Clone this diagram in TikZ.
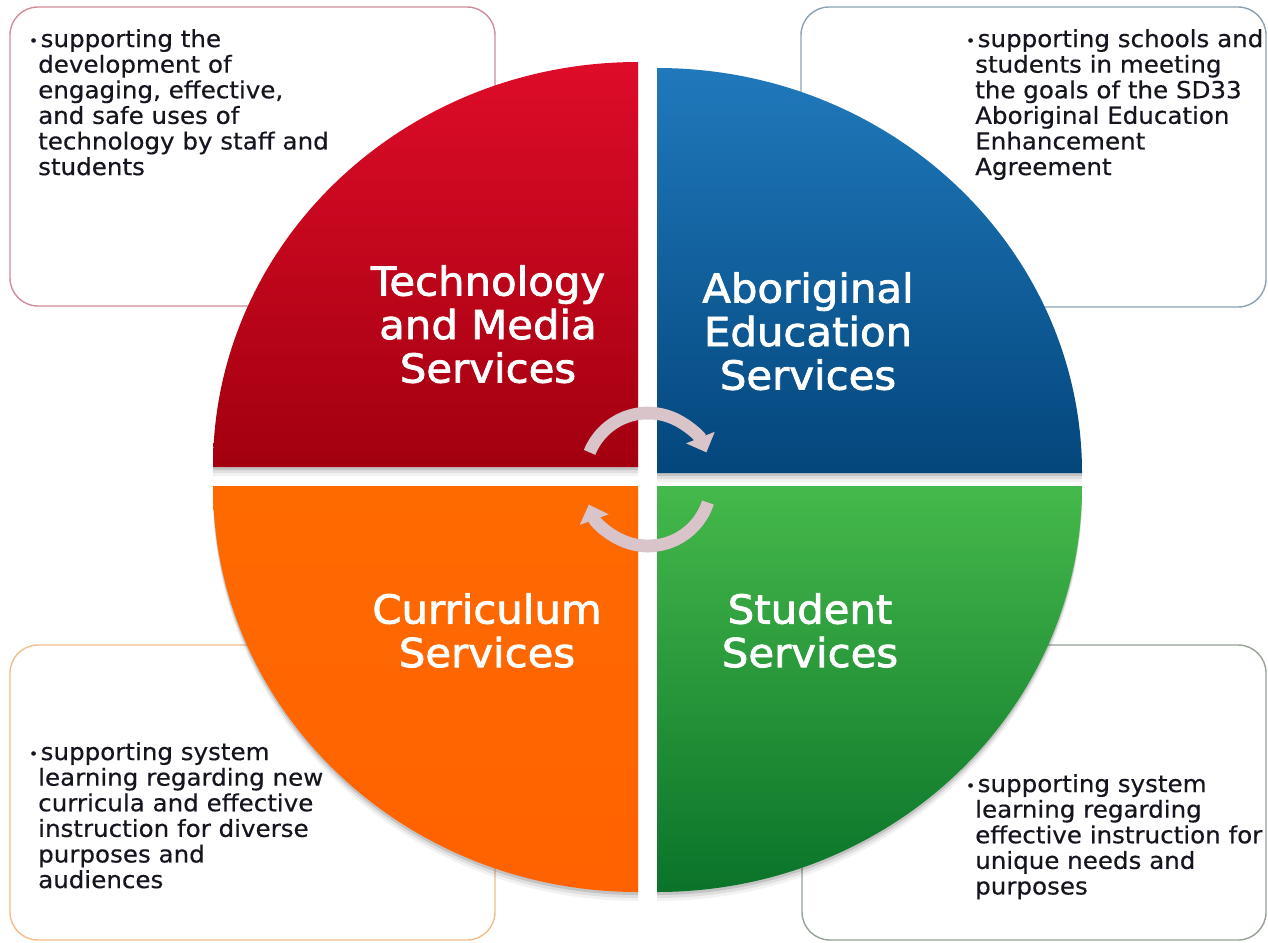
\documentclass[tikz,border=0pt]{standalone}
\usepackage{fontspec}
\newfontfamily\bodyfont[FakeStretch=1.045,FakeBold=0.4]{DejaVu Sans}
\newfontfamily\bigfont[FakeStretch=1.045,FakeBold=2]{DejaVu Sans}
\usetikzlibrary{arrows.meta}
\definecolor{redT}{HTML}{DE0C28}
\definecolor{redB}{HTML}{A2000F}
\definecolor{bluT}{HTML}{2079BC}
\definecolor{bluB}{HTML}{03467C}
\definecolor{orgT}{HTML}{FF6A00}
\definecolor{orgB}{HTML}{FF6200}
\definecolor{grnT}{HTML}{45B94B}
\definecolor{grnB}{HTML}{0A7329}
\definecolor{bdTL}{HTML}{D28C9A}
\definecolor{bdTR}{HTML}{8AA3B3}
\definecolor{bdBL}{HTML}{F2BE88}
\definecolor{bdBR}{HTML}{95A395}
\definecolor{arrc}{HTML}{D9C4C9}
\definecolor{txtc}{HTML}{15151F}
\begin{document}
\begin{tikzpicture}[x=1pt,y=-1pt,
  infobox/.style={draw, line width=1.4pt, fill=white, rounded corners=28pt, minimum width=#1, inner sep=0pt},
  bodytxt/.style={anchor=north west, inner sep=0pt, align=left, text=txtc, font=\bodyfont\fontsize{23.5}{25.6}\selectfont},
  bigtxt/.style={anchor=north, inner sep=0pt, align=center, text=white, font=\bigfont\fontsize{40}{43.5}\selectfont},
  cyc/.style={line width=12.5pt, draw=arrc, -{Triangle[width=30pt,length=16pt]}},
  cycshadow/.style={line width=12.5pt, draw=black, opacity=0.2, -{Triangle[width=30pt,length=16pt]}}]
\useasboundingbox (0,0) rectangle (1268,942);
\fill[white] (0,0) rectangle (1268,942);
\newcommand\bul{\llap{\fontsize{15}{15}\selectfont\raisebox{1pt}{•}}\kern2.5pt}
% boxes
\node[infobox=485pt, minimum height=299pt, draw=bdTL] (boxTL) at (252.5,156.5) {};
\node[infobox=465pt, minimum height=300pt, draw=bdTR] (boxTR) at (1033.5,157) {};
\node[infobox=485pt, minimum height=295pt, draw=bdBL] (boxBL) at (252.5,792.5) {};
\node[infobox=464pt, minimum height=295pt, draw=bdBR] (boxBR) at (1034,792.5) {};
% shadows
\foreach \dy/\op in {3/0.12,6/0.08,9/0.05}{
  \fill[black,opacity=\op,yshift=-\dy pt] (638,467) -- (213,467) arc[start angle=180,end angle=270,x radius=425,y radius=405] -- cycle;
  \fill[black,opacity=\op,yshift=-\dy pt] (657,473) -- (657,68) arc[start angle=270,end angle=360,x radius=425,y radius=405] -- cycle;
  \fill[black,opacity=\op,yshift=-\dy pt] (657,486) -- (1082,486) arc[start angle=0,end angle=90,x radius=425,y radius=406] -- cycle;
  \fill[black,opacity=\op,yshift=-\dy pt] (638,486) -- (638,892) arc[start angle=90,end angle=180,x radius=425,y radius=406] -- cycle;
}
% quadrants
\shade[top color=redT, bottom color=redB] (638,467) -- (213,467) arc[start angle=180,end angle=270,x radius=425,y radius=405] -- cycle;
\shade[top color=bluT, bottom color=bluB] (657,473) -- (657,68) arc[start angle=270,end angle=360,x radius=425,y radius=405] -- cycle;
\shade[top color=grnT, bottom color=grnB] (657,486) -- (1082,486) arc[start angle=0,end angle=90,x radius=425,y radius=406] -- cycle;
\shade[top color=orgT, bottom color=orgB] (638,486) -- (638,892) arc[start angle=90,end angle=180,x radius=425,y radius=406] -- cycle;
% big labels
\node[bigtxt] (tech) at (488,265) {Technology\\and Media\\Services};
\node[bigtxt] (abor) at (808,272) {Aboriginal\\Education\\Services};
\node[bigtxt] (curr) at (487,593) {Curriculum\\Services};
\node[bigtxt] (stud) at (810,593) {Student\\Services};
% cycle arrows
\coordinate (c1) at (648,476);
\coordinate (c2) at (648,483);
\draw[cycshadow,xshift=1.5pt,yshift=-3pt] ([shift={(202:63)}]c1) arc[start angle=202,end angle=338,radius=63];
\draw[cycshadow,xshift=1.5pt,yshift=-3pt] ([shift={(18:63)}]c2) arc[start angle=18,end angle=160,radius=63];
\draw[cyc] ([shift={(202:63)}]c1) arc[start angle=202,end angle=338,radius=63];
\draw[cyc] ([shift={(18:63)}]c2) arc[start angle=18,end angle=160,radius=63];
% box texts
\node[bodytxt] (txtTL) at (38,29) {\bul supporting the\\development of\\engaging, effective,\\and safe uses of\\technology by staff and\\students};
\node[bodytxt] (txtTR) at (975,29) {\bul supporting schools and\\students in meeting\\the goals of the SD33\\Aboriginal Education\\Enhancement\\Agreement};
\node[bodytxt] (txtBL) at (38,742) {\bul supporting system\\learning regarding new\\curricula and effective\\instruction for diverse\\purposes and\\audiences};
\node[bodytxt] (txtBR) at (975,774) {\bul supporting system\\learning regarding\\effective instruction for\\unique needs and\\purposes};
\end{tikzpicture}
\end{document}
